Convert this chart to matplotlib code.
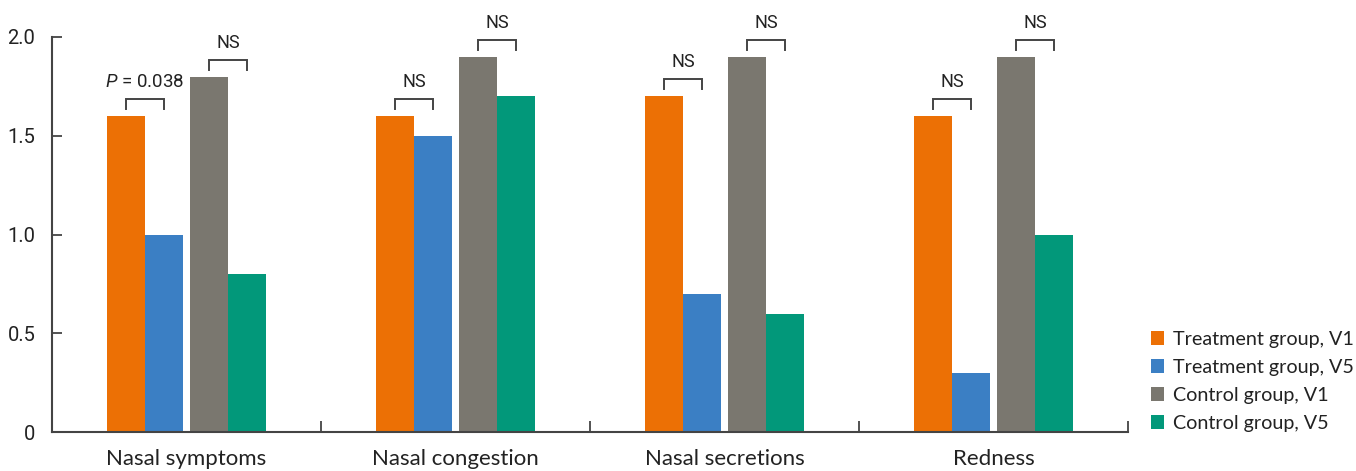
import matplotlib
matplotlib.use("Agg")
import matplotlib.pyplot as plt
import numpy as np

categories = ["Nasal symptoms", "Nasal congestion", "Nasal secretions", "Redness"]
series_names = ["Treatment group, V1", "Treatment group, V5",
                "Control group, V1", "Control group, V5"]
treat_v1 = [1.6, 1.6, 1.7, 1.6]
treat_v5 = [1.0, 1.5, 0.7, 0.3]
ctrl_v1 = [1.8, 1.9, 1.9, 1.9]
ctrl_v5 = [0.8, 1.7, 0.6, 1.0]
treat_labels = ["P = 0.038", "NS", "NS", "NS"]
ctrl_labels = ["NS", "NS", "NS", "NS"]
yticks = [0, 0.5, 1.0, 1.5, 2.0]
ytick_labels = ["0", "0.5", "1.0", "1.5", "2.0"]

colors = ["#EC7005", "#3B7FC4", "#7A776F", "#02987A"]
text_color = "#222222"
axis_color = "#444444"

plt.rcParams["mathtext.fontset"] = "custom"
plt.rcParams["mathtext.it"] = "Roboto:italic"
plt.rcParams["mathtext.rm"] = "Roboto"

W, H, DPI = 1356, 471, 100
fig = plt.figure(figsize=(W / DPI, H / DPI), dpi=DPI)
ax = fig.add_axes([52 / W, (H - 432) / H, (1128 - 52) / W, (432 - 37) / H])

x = np.arange(len(categories))
bw = 0.1413
offsets = [-0.225, -0.0836, 0.0836, 0.225]
all_series = [treat_v1, treat_v5, ctrl_v1, ctrl_v5]
for vals, off, col, name in zip(all_series, offsets, colors, series_names):
    ax.bar(x + off, vals, width=bw, color=col, label=name, linewidth=0)

ax.set_xlim(-0.5, 3.5)
ax.set_ylim(0, 2.0)

# axes styling
for s in ["top", "right"]:
    ax.spines[s].set_visible(False)
for s in ["left", "bottom"]:
    ax.spines[s].set_color(axis_color)
    ax.spines[s].set_linewidth(1.5)

ax.set_yticks(yticks)
ax.set_yticklabels(ytick_labels, fontsize=14.5, family="Roboto", color=text_color)
ax.tick_params(axis="y", direction="in", length=7, width=1.3, color=axis_color, pad=12)

ax.set_xticks([0.5, 1.5, 2.5, 3.5])
ax.set_xticklabels([])
ax.tick_params(axis="x", direction="in", length=8, width=1.3, color=axis_color)
for xi, cat in zip(x, categories):
    ax.text(xi, -0.135, cat, ha="center", va="center", fontsize=16,
            family="Lato", color=text_color, transform=ax.transData, clip_on=False)

# significance brackets
px = 395 / 2.0  # pixels per data unit on y
gap = 7 / px
hgt = 10 / px
txt_off = 17 / px


def bracket(x1, x2, top_val, label):
    base = top_val + gap
    top = base + hgt
    ax.plot([x1, x1, x2, x2], [base, top, top, base], color=axis_color,
            lw=1.4, clip_on=False, solid_joinstyle="miter")
    if label.startswith("P"):
        ax.text((x1 + x2) / 2, top + txt_off, r"$\it{P}$" + label[1:], ha="center",
                va="center", fontsize=13.5, family="Roboto", color=text_color,
                clip_on=False)
    else:
        ax.text((x1 + x2) / 2, top + txt_off, label, ha="center", va="center",
                fontsize=13, family="Roboto", color=text_color, clip_on=False)


for i in range(len(categories)):
    bracket(x[i] + offsets[0], x[i] + offsets[1], max(treat_v1[i], treat_v5[i]), treat_labels[i])
    bracket(x[i] + offsets[2], x[i] + offsets[3], max(ctrl_v1[i], ctrl_v5[i]), ctrl_labels[i])

leg = ax.legend(loc="upper left", bbox_to_anchor=(1151 / W, (H - 331) / H),
                bbox_transform=fig.transFigure, frameon=False,
                handlelength=0.68, handleheight=0.68, handletextpad=0.45,
                labelspacing=0.56, prop={"family": "Lato", "size": 14.2},
                borderaxespad=0, borderpad=0)
for t in leg.get_texts():
    t.set_color(text_color)

fig.savefig("out.png", dpi=DPI)
